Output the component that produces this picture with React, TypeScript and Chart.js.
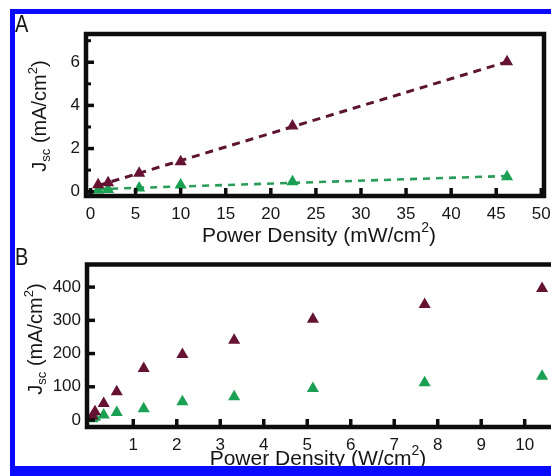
import React, { useEffect, useRef } from "react";
import { Chart, registerables } from "chart.js";

Chart.register(...registerables);

const FONT = '"Liberation Sans", Arial, Helvetica, sans-serif';
const MAROON = "#661232";
const GREEN = "#19a052";
const MAROON_LINE = "#5c1430";
const GREEN_LINE = "#2a9c5a";
const INK = "#161616";
const BLUE = "#0a0aff";

// ---- Panel A (mW/cm2) ----
const powerA = [0.85, 1.95, 5.4, 10.0, 22.4, 46.2];
const jscA_maroon = [0.32, 0.42, 0.85, 1.39, 3.04, 6.02];
const jscA_green = [0.08, 0.1, 0.17, 0.31, 0.46, 0.69];
const ticksAX = [0, 5, 10, 15, 20, 25, 30, 35, 40, 45, 50];
const ticksAY = [0, 2, 4, 6];
const minorAY = [1, 3, 5, 7];

// ---- Panel B (W/cm2) ----
const powerB = [0.06, 0.12, 0.32, 0.62, 1.24, 2.13, 3.32, 5.13, 7.7, 10.4];
const jscB_maroon = [12, 25, 50, 85, 155, 197, 240, 303, 348, 396];
const jscB_green = [4, 8, 15, 23, 34, 55, 70, 95, 112, 132];
const ticksBX = [1, 2, 3, 4, 5, 6, 7, 8, 9, 10];
const ticksBY = [0, 100, 200, 300, 400];
const minorBY: number[] = [];

type Seg = { t: string; size: number; dy: number };

function fitLine(xs: number[], ys: number[]) {
  const n = xs.length;
  const mx = xs.reduce((a, b) => a + b, 0) / n;
  const my = ys.reduce((a, b) => a + b, 0) / n;
  let sxy = 0;
  let sxx = 0;
  for (let i = 0; i < n; i++) {
    sxy += (xs[i] - mx) * (ys[i] - my);
    sxx += (xs[i] - mx) * (xs[i] - mx);
  }
  const m = sxy / sxx;
  const b = my - m * mx;
  const x0 = Math.min(...xs);
  const x1 = Math.max(...xs);
  return [
    { x: x0, y: m * x0 + b },
    { x: x1, y: m * x1 + b },
  ];
}

function pts(xs: number[], ys: number[]) {
  return xs.map((x, i) => ({ x, y: ys[i] }));
}

function drawRich(ctx: CanvasRenderingContext2D, segs: Seg[], cx: number, base: number) {
  let w = 0;
  for (const s of segs) {
    ctx.font = `${s.size}px ${FONT}`;
    w += ctx.measureText(s.t).width;
  }
  let x = cx - w / 2;
  ctx.textAlign = "left";
  ctx.textBaseline = "alphabetic";
  for (const s of segs) {
    ctx.font = `${s.size}px ${FONT}`;
    ctx.fillText(s.t, x, base + s.dy);
    x += ctx.measureText(s.t).width;
  }
}

interface PanelSpec {
  width: number;
  height: number;
  padTop: number;
  padRight: number;
  yAxisW: number;
  xAxisH: number;
  xMin: number;
  xMax: number;
  yMin: number;
  yMax: number;
  xTicks: number[];
  yTicks: number[];
  yMinor: number[];
  drawRight: boolean;
  label: string;
  labelX: number;
  labelBase: number;
  yTitleX: number;
  yTitleCY: number;
  xTitleCX: number;
  xTitleBase: number;
  xUnit: string;
  xs: number[];
  maroon: number[];
  green: number[];
  fits: boolean;
}

function buildChart(canvas: HTMLCanvasElement, p: PanelSpec) {
  const datasets: any[] = [
    {
      data: pts(p.xs, p.maroon),
      showLine: false,
      pointStyle: "triangle",
      pointRadius: 7,
      backgroundColor: MAROON,
      borderColor: MAROON,
      borderWidth: 0,
      clip: false,
    },
    {
      data: pts(p.xs, p.green),
      showLine: false,
      pointStyle: "triangle",
      pointRadius: 7,
      backgroundColor: GREEN,
      borderColor: GREEN,
      borderWidth: 0,
      clip: false,
    },
  ];
  if (p.fits) {
    datasets.push(
      {
        data: fitLine(p.xs, p.maroon),
        showLine: true,
        pointRadius: 0,
        borderColor: MAROON_LINE,
        borderWidth: 3,
        borderDash: [8, 6],
        fill: false,
      },
      {
        data: fitLine(p.xs, p.green),
        showLine: true,
        pointRadius: 0,
        borderColor: GREEN_LINE,
        borderWidth: 2.6,
        borderDash: [7, 6],
        fill: false,
      }
    );
  }

  const framePlugin = {
    id: "frame",
    afterDraw(chart: any) {
      const ctx: CanvasRenderingContext2D = chart.ctx;
      const a = chart.chartArea;
      const xs = chart.scales.x;
      const ys = chart.scales.y;
      ctx.save();
      ctx.strokeStyle = "#0d0d0d";
      ctx.lineCap = "butt";
      // ticks
      ctx.lineWidth = 3.5;
      for (const v of p.xTicks) {
        const px = xs.getPixelForValue(v);
        ctx.beginPath();
        ctx.moveTo(px, a.bottom);
        ctx.lineTo(px, a.bottom - 8);
        ctx.stroke();
      }
      for (const v of p.yTicks) {
        const py = ys.getPixelForValue(v);
        ctx.beginPath();
        ctx.moveTo(a.left, py);
        ctx.lineTo(a.left + 8, py);
        ctx.stroke();
      }
      ctx.lineWidth = 3;
      for (const v of p.yMinor) {
        const py = ys.getPixelForValue(v);
        ctx.beginPath();
        ctx.moveTo(a.left, py);
        ctx.lineTo(a.left + 5, py);
        ctx.stroke();
      }
      // frame
      ctx.lineWidth = 4.5;
      ctx.beginPath();
      if (p.drawRight) {
        ctx.rect(a.left, a.top, a.right - a.left, a.bottom - a.top);
      } else {
        ctx.moveTo(a.right + 10, a.top);
        ctx.lineTo(a.left, a.top);
        ctx.lineTo(a.left, a.bottom);
        ctx.lineTo(a.right + 10, a.bottom);
      }
      ctx.stroke();

      // titles
      ctx.fillStyle = INK;
      ctx.save();
      ctx.translate(p.yTitleX, p.yTitleCY);
      ctx.rotate(-Math.PI / 2);
      drawRich(
        ctx,
        [
          { t: "J", size: 20, dy: 0 },
          { t: "sc", size: 13, dy: 4 },
          { t: " (mA/cm", size: 20, dy: 0 },
          { t: "2", size: 13, dy: -9 },
          { t: ")", size: 20, dy: 0 },
        ],
        0,
        0
      );
      ctx.restore();

      drawRich(
        ctx,
        [
          { t: "Power Density (" + p.xUnit + "/cm", size: 21, dy: 0 },
          { t: "2", size: 14, dy: -10 },
          { t: ")", size: 21, dy: 0 },
        ],
        p.xTitleCX,
        p.xTitleBase
      );

      // panel letter
      ctx.save();
      ctx.translate(p.labelX, p.labelBase);
      ctx.scale(1, 1.2);
      ctx.font = `20px ${FONT}`;
      ctx.textAlign = "left";
      ctx.textBaseline = "alphabetic";
      ctx.fillText(p.label, 0, 0);
      ctx.restore();
      ctx.restore();
    },
  };

  const tickFont = { family: FONT, size: 17 };

  return new Chart(canvas, {
    type: "scatter",
    data: { datasets },
    options: {
      animation: false,
      responsive: false,
      maintainAspectRatio: false,
      events: [],
      layout: { padding: { top: p.padTop, right: p.padRight, bottom: 0, left: 0 } },
      plugins: { legend: { display: false }, tooltip: { enabled: false } },
      scales: {
        x: {
          type: "linear",
          min: p.xMin,
          max: p.xMax,
          grid: { display: false, drawTicks: false },
          border: { display: false },
          afterBuildTicks: (s: any) => {
            s.ticks = p.xTicks.map((v) => ({ value: v }));
          },
          afterFit: (s: any) => {
            s.height = p.xAxisH;
            s.paddingLeft = 0;
            s.paddingRight = 0;
            s.paddingTop = 0;
            s.paddingBottom = 0;
          },
          ticks: {
            font: tickFont,
            color: INK,
            padding: 8,
            autoSkip: false,
            maxRotation: 0,
            minRotation: 0,
          },
        },
        y: {
          type: "linear",
          min: p.yMin,
          max: p.yMax,
          grid: { display: false, drawTicks: false },
          border: { display: false },
          afterBuildTicks: (s: any) => {
            s.ticks = p.yTicks.map((v) => ({ value: v }));
          },
          afterFit: (s: any) => {
            s.width = p.yAxisW;
            s.paddingLeft = 0;
            s.paddingRight = 0;
            s.paddingTop = 0;
            s.paddingBottom = 0;
          },
          ticks: {
            font: tickFont,
            color: INK,
            padding: 6,
            autoSkip: false,
          },
        },
      },
    } as any,
    plugins: [framePlugin],
  });
}

const panelA: PanelSpec = {
  width: 551,
  height: 252,
  padTop: 34,
  padRight: 2,
  yAxisW: 86,
  xAxisH: 56,
  xMin: -0.5,
  xMax: 50.3,
  yMin: -0.2,
  yMax: 7.31,
  xTicks: ticksAX,
  yTicks: ticksAY,
  yMinor: minorAY,
  drawRight: true,
  label: "A",
  labelX: 15,
  labelBase: 32,
  yTitleX: 46,
  yTitleCY: 116,
  xTitleCX: 319,
  xTitleBase: 242,
  xUnit: "mW",
  xs: powerA,
  maroon: jscA_maroon,
  green: jscA_green,
  fits: true,
};

const panelB: PanelSpec = {
  width: 566,
  height: 236,
  padTop: 24.5,
  padRight: 10,
  yAxisW: 87,
  xAxisH: 49,
  xMin: -0.064,
  xMax: 10.72,
  yMin: -21,
  yMax: 468,
  xTicks: ticksBX,
  yTicks: ticksBY,
  yMinor: minorBY,
  drawRight: false,
  label: "B",
  labelX: 15,
  labelBase: 25,
  yTitleX: 42,
  yTitleCY: 99,
  xTitleCX: 318,
  xTitleBase: 225,
  xUnit: "W",
  xs: powerB,
  maroon: jscB_maroon,
  green: jscB_green,
  fits: false,
};

function Panel({ spec, top }: { spec: PanelSpec; top: number }) {
  const ref = useRef<HTMLCanvasElement | null>(null);
  useEffect(() => {
    if (!ref.current) return;
    const c = buildChart(ref.current, spec);
    return () => c.destroy();
  }, [spec]);
  return (
    <canvas
      ref={ref}
      width={spec.width}
      height={spec.height}
      style={{
        position: "absolute",
        left: 0,
        top,
        width: spec.width,
        height: spec.height,
        display: "block",
      }}
    />
  );
}

export default function App() {
  return (
    <div
      style={{
        position: "fixed",
        left: 0,
        top: 0,
        width: 551,
        height: 476,
        overflow: "hidden",
        background: "#ffffff",
      }}
    >
      <Panel spec={panelA} top={0} />
      <Panel spec={panelB} top={240} />
      <div style={{ position: "absolute", left: 10, top: 9, width: 541, height: 5, background: BLUE }} />
      <div style={{ position: "absolute", left: 10, top: 9, width: 5, height: 467, background: BLUE }} />
      <div style={{ position: "absolute", left: 10, top: 466, width: 541, height: 10, background: BLUE }} />
    </div>
  );
}
